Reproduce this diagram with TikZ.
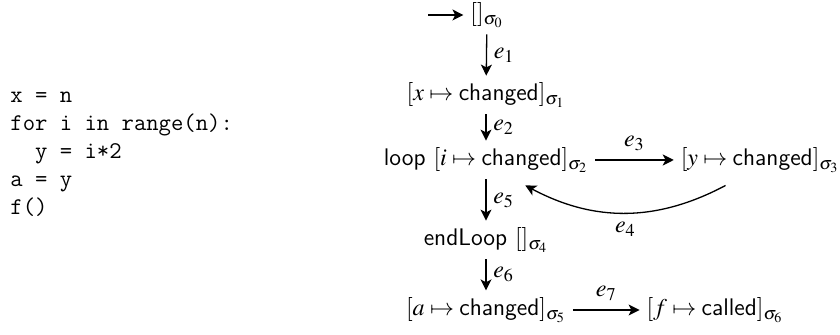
\documentclass[tikz,border=0pt]{standalone}
\usepackage{amsmath,amssymb}
\usepackage{mathptmx}
\usepackage{tikz}
\usetikzlibrary{arrows.meta,positioning,calc}
\newcommand\codefont{\fontsize{12}{14}\selectfont\ttfamily\lineskiplimit=-20pt\relax}

\begin{document}
\begin{tikzpicture}[x=0.5pt,y=0.5pt,>={Stealth[length=5.5pt,width=5.5pt,inset=1.4pt]},
every node/.style={font=\fontsize{12}{14}\selectfont},
state/.style={inner sep=3.3pt},
trans/.style={->, line width=0.65pt},
code/.style={font=\codefont, align=left, anchor=north west, inner sep=0pt}]
\useasboundingbox (0,0) rectangle (840,-335);
% program
\node[code] (prog) at (10,-91.5) {x~=~n\\for~i~in~range(n):\\~~y~=~i*2\\a~=~y\\f()};
% states
\coordinate (start) at (428,-15);
\node[state] (s0) at (487,-15) {$[]_{\sigma_0}$};
\node[state] (s1) at (486,-95) {$[x\mapsto\textsf{changed}]_{\sigma_1}$};
\node[state] (s2) at (486,-160) {\textsf{loop} $[i\mapsto\textsf{changed}]_{\sigma_2}$};
\node[state] (s3) at (760,-160) {$[y\mapsto\textsf{changed}]_{\sigma_3}$};
\node[state] (s4) at (486,-240) {\textsf{endLoop} $[]_{\sigma_4}$};
\node[state] (s5) at (486,-310) {$[a\mapsto\textsf{changed}]_{\sigma_5}$};
\node[state] (s6) at (715,-310) {$[f\mapsto\textsf{called}]_{\sigma_6}$};
% transitions
\draw[trans] (start) -- (s0);
\draw[trans] (s0) -- node[right] {$e_1$} (s1);
\draw[trans] (s1) -- node[right] {$e_2$} (s2);
\draw[trans] (s2) -- node[above=1pt] {$e_3$} (s3);
\draw[trans] ($(s3.south west)!0.3!(s3.south east)+(0,-3pt)$) to[bend left=28]
  node[below=1pt] {$e_4$} ($(s2.south west)!0.68!(s2.south east)+(0,-3pt)$);
\draw[trans] (s2) -- node[right] {$e_5$} (s4);
\draw[trans] (s4) -- node[right] {$e_6$} (s5);
\draw[trans] (s5) -- node[above=1pt] {$e_7$} (s6);
\end{tikzpicture}
\end{document}
